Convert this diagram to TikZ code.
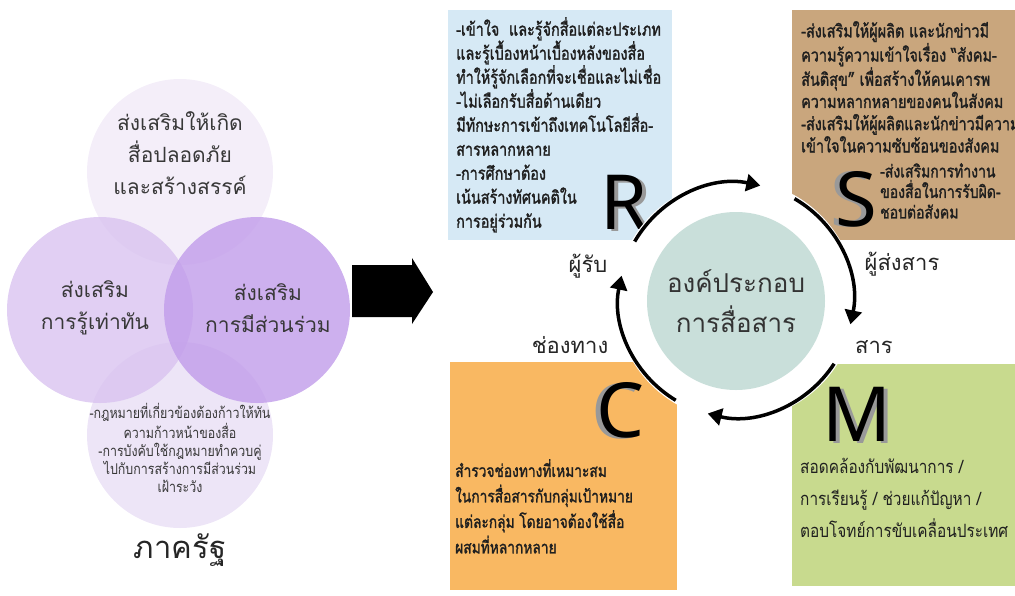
\documentclass[tikz,border=0pt]{standalone}
\usepackage{fontspec}
\usetikzlibrary{arrows.meta}
\newfontfamily\thai[Script=Thai]{Loma}
\newfontfamily\thaic[Script=Thai,FakeStretch=0.84]{Loma}
\newfontfamily\thaib[Script=Thai,FakeStretch=0.8,FakeBold=1.5]{Loma}
\newfontfamily\latinbig{Noto Sans}
\definecolor{ctop}{HTML}{F4EEF9}
\definecolor{cbot}{HTML}{EDE5F7}
\definecolor{cleft}{HTML}{D9C3F0}
\definecolor{cright}{HTML}{C19CEA}
\definecolor{rbox}{HTML}{D6E9F5}
\definecolor{sbox}{HTML}{C9A67D}
\definecolor{cbox}{HTML}{F9B862}
\definecolor{mbox}{HTML}{C8DA8E}
\definecolor{ccore}{HTML}{C9DFDA}
\begin{document}
\begin{tikzpicture}[x=1pt,y=-1pt,
  boxtxt/.style={anchor=north west,inner sep=0pt,align=left,text=black!88,
    font=\thaib\fontsize{18}{24}\selectfont},
  circtxt/.style={align=center,inner sep=0pt,text=black!78,
    font=\thai\fontsize{21}{32}\selectfont},
  lbl/.style={inner sep=0pt,text=black!85,font=\thai\fontsize{22}{24}\selectfont},
  bigletter/.style={inner sep=0pt,font=\latinbig\fontsize{76}{76}\selectfont},
  shadowletter/.style={bigletter,text=black!40},
  ringarrow/.style={line width=3.5pt,-{Triangle[length=14pt,width=17pt]}}
]
\useasboundingbox (0,0) rectangle (1015,595);
% ---------- left: circles ----------
\fill[ctop] (180,172) circle[radius=93];
\fill[cbot] (180,435) circle[radius=93];
\fill[cleft,fill opacity=0.8] (100,310) circle[radius=93];
\fill[cright,fill opacity=0.8] (257,310) circle[radius=93];
\node[circtxt] (ttop) at (180,153) {ส่งเสริมให้เกิด\\สื่อปลอดภัย\\และสร้างสรรค์};
\node[circtxt] (tleft) at (95,308) {ส่งเสริม\\การรู้เท่าทัน};
\node[circtxt] (tright) at (268,308) {ส่งเสริม\\การมีส่วนร่วม};
\node[align=center,inner sep=0pt,text=black!78,font=\thaic\fontsize{14.8}{18}\selectfont] (tbot) at (180,448)
  {-กฎหมายที่เกี่ยวข้องต้องก้าวให้ทัน\\ความก้าวหน้าของสื่อ\\-การบังคับใช้กฎหมายทำควบคู่\\ไปกับการสร้างการมีส่วนร่วม\\เฝ้าระวัง};
\node[inner sep=0pt,text=black!85,font=\thai\fontsize{31}{34}\selectfont] (state) at (180,550) {ภาครัฐ};
% ---------- big arrow ----------
\fill[black] (352,265) -- (412,265) -- (412,258) -- (433,292) -- (412,324) -- (412,317) -- (352,317) -- cycle;
% ---------- right: boxes ----------
\fill[rbox] (448,10) rectangle (672,240);
\fill[sbox] (792,10) rectangle (1015,240);
\fill[cbox] (450,362) rectangle (677,590);
\fill[mbox] (792,364) rectangle (1015,586);
\node[boxtxt] (rtxt) at (456,17) {-เข้าใจ~ และรู้จักสื่อแต่ละประเภท\\และรู้เบื้องหน้าเบื้องหลังของสื่อ\\ทำให้รู้จักเลือกที่จะเชื่อและไม่เชื่อ\\-ไม่เลือกรับสื่อด้านเดียว\\มีทักษะการเข้าถึงเทคโนโลยีสื่อ-\\สารหลากหลาย\\-การศึกษาต้อง\\เน้นสร้างทัศนคติใน\\การอยู่ร่วมกัน};
\begin{scope}
\clip (792,10) rectangle (1015,240);
\node[boxtxt,font=\thaib\fontsize{18}{22.2}\selectfont] (stxt) at (801,21) {-ส่งเสริมให้ผู้ผลิต และนักข่าวมี\\ความรู้ความเข้าใจเรื่อง “สังคม-\\สันติสุข” เพื่อสร้างให้คนเคารพ\\ความหลากหลายของคนในสังคม\\-ส่งเสริมให้ผู้ผลิตและนักข่าวมีความ\\เข้าใจในความซับซ้อนของสังคม};
\node[boxtxt,font=\thaib\fontsize{17.5}{20.5}\selectfont] (stxt2) at (880,163) {-ส่งเสริมการทำงาน\\ของสื่อในการรับผิด-\\ชอบต่อสังคม};
\end{scope}
\node[boxtxt,font=\thaib\fontsize{17.2}{25.5}\selectfont] (ctxt) at (455,459) {สำรวจช่องทางที่เหมาะสม\\ในการสื่อสารกับกลุ่มเป้าหมาย\\แต่ละกลุ่ม โดยอาจต้องใช้สื่อ\\ผสมที่หลากหลาย};
\node[boxtxt,font=\thaic\fontsize{18.3}{32}\selectfont] (mtxt) at (800,458) {สอดคล้องกับพัฒนาการ /\\การเรียนรู้ / ช่วยแก้ปัญหา /\\ตอบโจทย์การขับเคลื่อนประเทศ};
% big letters
\node[shadowletter] (Rs) at (628,204) {R};
\node[bigletter] (R) at (624,202) {R};
\node[shadowletter] (Ss) at (851,199) {S};
\node[bigletter] (S) at (856,199) {S};
\node[shadowletter] (Cs) at (616,411) {C};
\node[bigletter] (C) at (621,410) {C};
\node[shadowletter] (Ms) at (861,416) {M};
\node[bigletter] (M) at (857,414) {M};
% ---------- ring ----------
\fill[white] (736,300) circle[radius=120];
\node[circle,fill=ccore,minimum size=178pt,inner sep=0pt] (core) at (736,301) {};
\node[align=center,inner sep=0pt,text=black!80,font=\thai\fontsize{26}{40}\selectfont] (coretxt) at (core) {องค์ประกอบ\\การสื่อสาร};
\coordinate (O) at (736,300);
\draw[ringarrow] ([shift={(-150:117)}]O) arc[start angle=-150,end angle=-78,radius=117];
\draw[ringarrow] ([shift={(-60:117)}]O) arc[start angle=-60,end angle=12,radius=117];
\draw[ringarrow] ([shift={(33:117)}]O) arc[start angle=33,end angle=104,radius=117];
\draw[ringarrow] ([shift={(121:117)}]O) arc[start angle=121,end angle=192,radius=117];
% labels
\node[lbl] (lr) at (588,266) {ผู้รับ};
\node[lbl] (ls) at (902,264) {ผู้ส่งสาร};
\node[lbl] (lc) at (570,345) {ช่องทาง};
\node[lbl] (lm) at (874,347) {สาร};
\end{tikzpicture}
\end{document}
